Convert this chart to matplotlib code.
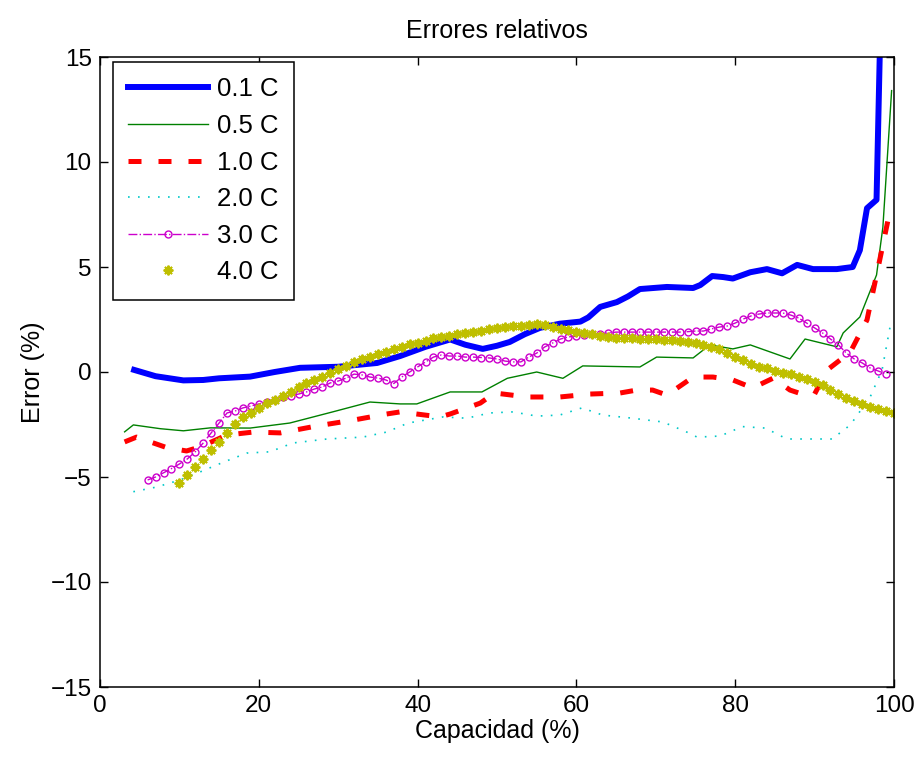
import matplotlib
matplotlib.use("Agg")
import matplotlib.pyplot as plt
import numpy as np

plt.rcParams['font.family'] = ['Liberation Sans', 'DejaVu Sans']

title = "Errores relativos"
xlabel = "Capacidad (%)"
ylabel = "Error (%)"
labels = ["0.1 C", "0.5 C", "1.0 C", "2.0 C", "3.0 C", "4.0 C"]

x01 = [4.3, 7, 10.5, 13, 15, 18.9, 22, 25.2, 30, 34.9, 37.8, 41, 44.1, 46, 48.2, 50, 51.6, 53.5,
       55.4, 57.9, 60.5, 61.5, 63, 65.1, 66.5, 68, 71.4, 74.7, 75.6, 77.1, 78.5, 79.7, 81.9, 84,
       85.9, 87.8, 89.8, 92.8, 94.8, 95.7, 96.6, 97.8, 98.2, 99]
y01 = [0.1, -0.2, -0.4, -0.38, -0.3, -0.22, 0.0, 0.2, 0.25, 0.43, 0.76, 1.2, 1.55, 1.3, 1.1, 1.25,
       1.43, 1.8, 2.1, 2.3, 2.4, 2.6, 3.1, 3.33, 3.6, 3.95, 4.05, 4.0, 4.14, 4.57, 4.52, 4.45, 4.75,
       4.9, 4.7, 5.1, 4.9, 4.9, 5.0, 5.8, 7.8, 8.2, 15, 20]

x05 = [3.1, 4.2, 7.6, 10.5, 13.9, 18.9, 23.9, 29.3, 34, 37.8, 39.9, 44.1, 48.1, 51.3, 55, 58.3,
       60.8, 68, 70.1, 74.7, 76.8, 79.7, 81.9, 86.9, 88.8, 92.8, 93.6, 95.7, 97.8, 98.6, 99.7]
y05 = [-2.85, -2.52, -2.7, -2.8, -2.66, -2.67, -2.43, -1.9, -1.43, -1.52, -1.52, -0.95, -0.95,
       -0.3, 0.0, -0.3, 0.29, 0.24, 0.71, 0.67, 1.29, 1.1, 1.29, 0.62, 1.57, 1.2, 1.86, 2.62, 4.62,
       6.9, 13.4]

x10 = [3.1, 4.6, 8.4, 10.9, 12.6, 16, 19.3, 22.7, 27.3, 31.9, 36.1, 37.8, 42.8, 44.1, 47.9, 49.7,
       53.8, 57.9, 61.7, 65.5, 67.6, 69.6, 71.4, 74.7, 77.2, 79.7, 82.2, 84.8, 86.9, 88.8, 90, 91.6,
       94.5, 96.6, 98.2, 99.5]
y10 = [-3.33, -3.1, -3.6, -3.76, -3.57, -3.0, -2.86, -2.9, -2.57, -2.29, -2.0, -1.9, -2.14, -2.0,
       -1.48, -1.0, -1.19, -1.19, -1.05, -1.0, -0.86, -0.86, -1.1, -0.24, -0.24, -0.38, -0.76,
       -0.29, -0.86, -1.1, -1.05, 0.1, 0.95, 2.48, 5.33, 7.7]

x20 = [4.2, 7.1, 10.1, 12.6, 15.5, 18.5, 21.4, 24.3, 28.6, 33.1, 36.1, 38.8, 43.2, 46.2, 49.1, 52,
       55, 57.9, 60.7, 63.3, 66.8, 70.9, 73.9, 75.2, 78.1, 80.9, 83.8, 86.5, 89.2, 92.2, 94.5, 97,
       98.5, 99.5]
y20 = [-5.7, -5.48, -5.14, -4.76, -4.3, -3.86, -3.8, -3.38, -3.19, -3.1, -2.86, -2.43, -2.14,
       -2.2, -1.95, -1.9, -2.1, -2.05, -1.71, -2.05, -2.19, -2.38, -2.86, -3.1, -3.05, -2.6, -2.67,
       -3.19, -3.19, -3.19, -2.52, -1.19, 0.1, 2.14]

x30 = list(range(6, 100))
y30 = [-5.14, -5.0, -4.8, -4.6, -4.38, -4.14, -3.8, -3.38, -2.9, -2.43, -1.95, -1.86, -1.71, -1.62,
       -1.52, -1.43, -1.33, -1.19, -1.14, -1.05, -0.95, -0.81, -0.71, -0.52, -0.43, -0.29, -0.1,
       -0.14, -0.24, -0.29, -0.38, -0.55, -0.24, 0.0, 0.24, 0.48, 0.71, 0.81, 0.76, 0.76, 0.71,
       0.71, 0.69, 0.67, 0.62, 0.52, 0.48, 0.48, 0.71, 0.9, 1.19, 1.38, 1.57, 1.67, 1.71, 1.76,
       1.81, 1.81, 1.86, 1.9, 1.9, 1.9, 1.9, 1.9, 1.9, 1.9, 1.9, 1.9, 1.92, 1.95, 1.95, 2.05, 2.14,
       2.19, 2.33, 2.52, 2.67, 2.76, 2.81, 2.81, 2.81, 2.71, 2.57, 2.33, 2.1, 1.86, 1.57, 1.29,
       0.9, 0.62, 0.43, 0.19, 0.05, -0.1]

x40 = list(range(10, 101))
y40 = [-5.29, -4.9, -4.52, -4.14, -3.71, -3.33, -2.9, -2.48, -2.14, -1.95, -1.71, -1.48, -1.33,
       -1.14, -0.95, -0.71, -0.52, -0.38, -0.24, -0.05, 0.14, 0.29, 0.48, 0.62, 0.71, 0.86, 0.95,
       1.1, 1.19, 1.33, 1.38, 1.48, 1.62, 1.67, 1.71, 1.81, 1.86, 1.9, 1.95, 2.05, 2.1, 2.14, 2.19,
       2.19, 2.24, 2.29, 2.24, 2.14, 2.05, 2.0, 1.9, 1.86, 1.81, 1.71, 1.67, 1.62, 1.62, 1.62,
       1.57, 1.57, 1.57, 1.52, 1.52, 1.48, 1.43, 1.38, 1.29, 1.19, 1.1, 0.9, 0.71, 0.57, 0.38,
       0.24, 0.19, 0.05, -0.05, -0.1, -0.24, -0.33, -0.48, -0.62, -0.86, -1.05, -1.24, -1.38,
       -1.52, -1.67, -1.76, -1.86, -1.95]

xticks = [0, 20, 40, 60, 80, 100]
yticks = [-15, -10, -5, 0, 5, 10, 15]

fig = plt.figure(figsize=(9.16, 7.58), dpi=100)
ax = fig.add_axes([100/916, 71/758, 794/916, 630/758])

ax.plot(x01, y01, color='#0000ff', lw=4.3, label=labels[0])
ax.plot(x05, y05, color='#008000', lw=1.0, label=labels[1])
ax.plot(x10, y10, color='#ff0000', lw=3.6, linestyle=(0, (2.6, 3.4)), label=labels[2])
ax.plot(x20, y20, color='#00c8c8', lw=1.2, linestyle=(0, (1, 5)), label=labels[3])
ax.plot(x30, y30, color='#cc00cc', lw=1.0, linestyle='-.', marker='o', markersize=5,
        markerfacecolor='none', markeredgewidth=1.0, label=labels[4])
ax.plot(x40, y40, color='#bfbf00', lw=0, linestyle='none', marker=(8, 2, 0), markersize=7,
        markeredgewidth=1.4, label=labels[5])

ax.set_xlim(0, 100)
ax.set_ylim(-15, 15)
ax.set_xticks(xticks)
ax.set_yticks(yticks)
ax.set_yticklabels(['\u221215', '\u221210', '\u22125', '0', '5', '10', '15'])
ax.tick_params(direction='in', length=6, width=1, top=True, right=True, labelsize=17.5, pad=6)
for s in ax.spines.values():
    s.set_linewidth(1.1)

ax.set_title(title, fontsize=18, pad=14)
ax.set_xlabel(xlabel, fontsize=18, labelpad=1)
ax.set_ylabel(ylabel, fontsize=18, labelpad=4)

leg = ax.legend(loc='upper left', bbox_to_anchor=(13/794, 1 - 5/630), borderaxespad=0,
                fontsize=18.5, handlelength=3.1, numpoints=1, fancybox=False, framealpha=1,
                edgecolor='black', labelspacing=0.49, borderpad=0.6, handletextpad=0.35)
leg.get_frame().set_linewidth(1.1)

fig.savefig("out.png", dpi=100)
